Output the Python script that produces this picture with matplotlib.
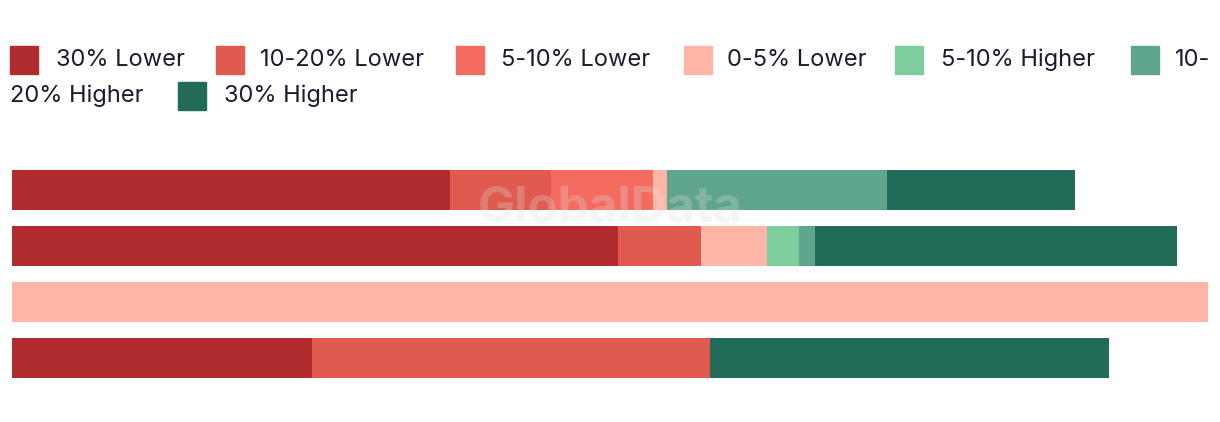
import matplotlib
matplotlib.use("Agg")
import matplotlib.pyplot as plt
from matplotlib.patches import Rectangle
import numpy as np

W, H = 1220, 422

labels = ["30% Lower", "10-20% Lower", "5-10% Lower", "0-5% Lower",
          "5-10% Higher", "10-20% Higher", "30% Higher"]
colors = ["#B02C2E", "#E05A4F", "#F46B60", "#FFB6A6",
          "#7ECD9C", "#5FA58E", "#226B58"]

# one value per bar, top to bottom
lower30 = [36.6, 50.7, 0, 25.1]
lower10_20 = [8.5, 6.9, 0, 33.3]
lower5_10 = [8.5, 0, 0, 0]
lower0_5 = [1.2, 5.5, 100.0, 0]
higher5_10 = [0, 2.7, 0, 0]
higher10_20 = [18.4, 1.3, 0, 0]
higher30 = [15.7, 30.3, 0, 33.3]
series = [lower30, lower10_20, lower5_10, lower0_5, higher5_10, higher10_20, higher30]

plt.rcParams['font.family'] = ['Inter', 'DejaVu Sans']

fig = plt.figure(figsize=(W/100, H/100), dpi=100)

# bars area: x 12..1208, y 162..386 px
ax = fig.add_axes([12/W, 1-386/H, 1196/W, 224/H])
y = np.arange(4)
left = np.zeros(4)
for vals, c in zip(series, colors):
    vals = np.array(vals)
    ax.barh(y, vals, left=left, height=40/56, color=c, linewidth=0)
    left += vals
ax.set_xlim(0, 100)
ax.set_ylim(3.5, -0.5)
ax.axis('off')

fig.text(610/W, 1-208/H, "GlobalData", ha='center', va='center', fontsize=35.5,
         fontweight='bold', color='#dcdcdc', alpha=0.28, zorder=10)

# legend laid out by hand, with the wrapped "10-" / "20% Higher"
txtc = "#1c1c30"
fs = 17
patch_x = [10, 216, 456, 684, 895, 1131, 178]
patch_y = [46, 46, 46, 46, 46, 46, 82]
text_x = [56, 260, 501, 727, 941, 1175, 224]
for i in range(7):
    fig.patches.append(Rectangle((patch_x[i]/W, 1-(patch_y[i]+28)/H), 28/W, 28/H,
                                 transform=fig.transFigure, color=colors[i]))
    txt = labels[i]
    if i == 5:
        txt = "10-"
    fig.text(text_x[i]/W, 1-(patch_y[i]+14)/H, txt, ha='left', va='center',
             fontsize=fs, color=txtc)
fig.text(10/W, 1-96/H, "20% Higher", ha='left', va='center', fontsize=fs, color=txtc)

fig.savefig("out.png", dpi=100)
